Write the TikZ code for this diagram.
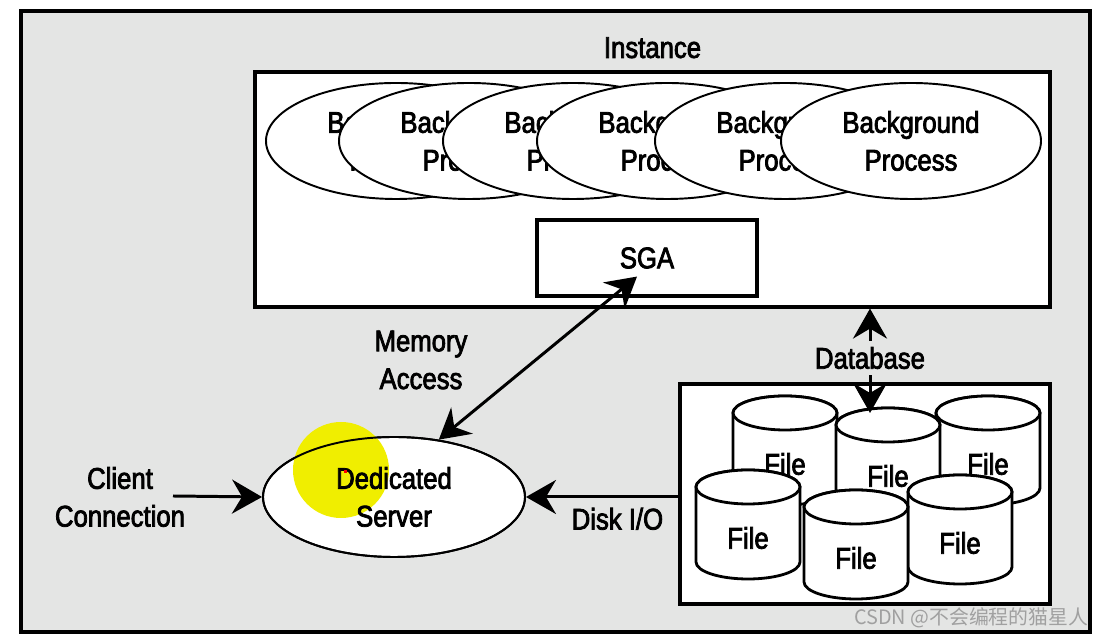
\documentclass[tikz,border=0pt]{standalone}
\usepackage{fontspec}
\setmainfont[FakeStretch=0.86, FakeBold=2.6]{Liberation Sans}
\newfontfamily\cjkmark{Noto Sans CJK SC}
\usetikzlibrary{positioning,shapes.geometric,arrows.meta}

\definecolor{panelgray}{RGB}{228,229,228}
\definecolor{hilite}{RGB}{240,238,0}
\definecolor{markgray}{RGB}{160,160,160}
\newcommand{\bigtxt}{\fontsize{17pt}{21.5pt}\selectfont}

% one file drum: name, x, y of top ellipse centre
\newcommand{\filecyl}[3]{%
  \filldraw[cylline] (#2-1.04,#3) -- (#2-1.04,#3-1.5)
    arc[start angle=180, end angle=360, x radius=1.04, y radius=0.34]
    -- (#2+1.04,#3)
    arc[start angle=0, end angle=180, x radius=1.04, y radius=0.34] -- cycle;
  \draw[cylline] (#2,#3) ellipse[x radius=1.04, y radius=0.34];
  \coordinate (#1top) at (#2,#3+0.34);
  \node[plain] (#1) at (#2,#3-1.02) {File};
}

\tikzset{
  bigtip/.tip={Stealth[length=0.6cm, width=0.68cm, inset=0.2cm]},
  plain/.style={font=\bigtxt, align=center},
  framebox/.style={rectangle, draw=black, line width=1.8pt, fill=white},
  bgproc/.style={ellipse, draw=black, line width=1.1pt, fill=white,
    minimum width=5.2cm, minimum height=2.32cm, inner sep=0pt,
    align=center, font=\bigtxt},
  cylline/.style={draw=black, line width=1.6pt, fill=white},
  link/.style={line width=1.7pt}
}

\begin{document}
\begin{tikzpicture}
\useasboundingbox (0,0) rectangle (22.14,12.74);

%Frame
\filldraw[fill=panelgray, draw=black, line width=2pt] (0.42,0.10) rectangle (21.80,12.52);

%Instance
\node[framebox, minimum width=15.9cm, minimum height=4.7cm] (inst) at (13.05,8.95) {};
\node[plain, above=0.12cm of inst] (instlbl) {Instance};
\foreach \x [count=\i] in {7.92,9.38,11.46,13.34,15.70,18.22}
  \node[bgproc] (bp\i) at (\x,9.92) {Background\\Process};
\node[framebox, minimum width=4.4cm, minimum height=1.52cm, font=\bigtxt] (sga) at (12.94,7.58) {SGA};

%Server (highlight sits between fill and outline)
\node[bgproc, minimum width=5.24cm, minimum height=2.4cm] (ded) at (7.88,2.80) {};
\fill[hilite] (6.82,3.34) circle (0.96);
\node[bgproc, fill=none, minimum width=5.24cm, minimum height=2.4cm] (dedtxt) at (ded.center) {Dedicated\\Server};
\fill[red] (6.87,3.27) rectangle ++(0.07,0.07);

\node[plain] (client) at (2.40,2.80) {Client\\Connection};
\coordinate (cstart) at (3.46,2.82);
\node[plain] (memlbl) at (8.42,5.54) {Memory\\Access};

%Database
\node[framebox, minimum width=7.4cm, minimum height=4.4cm] (db) at (17.30,2.86) {};
\filecyl{fileA}{15.70}{4.48}
\filecyl{fileC}{19.76}{4.48}
\filecyl{fileB}{17.76}{4.24}
\filecyl{fileD}{14.96}{3.00}
\filecyl{fileF}{19.20}{2.90}
\filecyl{fileE}{17.12}{2.60}
\node[plain] (dbl) at (17.40,5.58) {Database};

%Lines
\draw[link, -bigtip] (cstart) -- (ded.west);
\draw[link, -bigtip] (db.west |- ded.east) -- node[plain, below=2pt, pos=0.4] (disk) {Disk I/O} (ded.east);
\draw[link, bigtip-bigtip] (ded.52) -- ([xshift=-0.2cm, yshift=0.42cm]sga.south);
\draw[link, -bigtip] (dbl.north) -- (dbl.north |- inst.south);
\draw[link, -bigtip, shorten >=-0.1cm] (dbl.south) -- (dbl.south |- fileBtop);

\node[anchor=east, text=markgray, font=\cjkmark\fontsize{11.3pt}{14pt}\selectfont, inner sep=0pt] (mark) at (21.77,0.38) {CSDN @不会编程的猫星人};
\end{tikzpicture}
\end{document}
